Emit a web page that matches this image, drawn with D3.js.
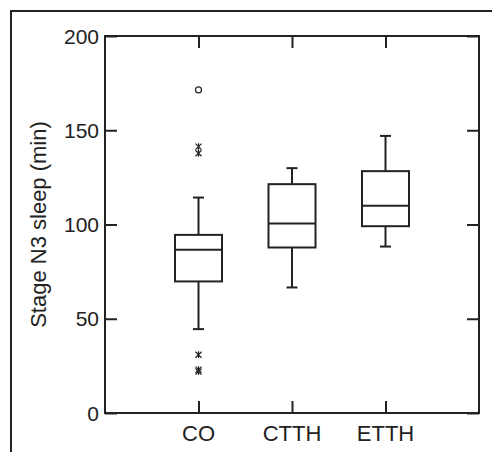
<!DOCTYPE html>
<html>
<head>
<meta charset="utf-8">
<script src="https://cdn.jsdelivr.net/npm/d3@7"></script>
<style>
  body { margin: 0; background: #fff; }
  text { font-family: "Liberation Sans", Arial, sans-serif; fill: #222; }
</style>
</head>
<body>
<div id="chart"></div>
<script>
// box plot summary
var groups = ['CO', 'CTTH', 'ETTH']
var whiskerLow = [44.5, 66.6, 88.3]
var q1 = [69.8, 87.8, 99.1]
var median = [86.6, 100.5, 110]
var q3 = [94.5, 121.4, 128.3]
var whiskerHigh = [114.3, 129.9, 147]
// circles = outliers, stars = extremes (only CO has them)
var outliers = [{group: 'CO', value: 171.4}]
var extremes = [
  {group: 'CO', value: 141.3}, {group: 'CO', value: 137.8},
  {group: 'CO', value: 30.9}, {group: 'CO', value: 23}, {group: 'CO', value: 22}
]
var yTicks = [0, 50, 100, 150, 200]

var width = 492, height = 452
var margin = {left: 105, right: 13, top: 36, bottom: 39}
var w = width - margin.left - margin.right,
    h = height - margin.top - margin.bottom
var ink = '#222'

var svg = d3.select('#chart')
  .append('svg')
    .attr('width', width)
    .attr('height', height)

// outer frame (left + top only)
svg.append('path')
    .attr('d', 'M11,452V11H492')
    .attr('fill', 'none')
    .attr('stroke', ink)
    .attr('stroke-width', 2)

var g = svg.append('g')
    .attr('transform', 'translate(' + margin.left + ',' + margin.top + ')')

var x = d3.scalePoint().domain(groups).range([0, w]).padding(1)
var y = d3.scaleLinear().domain([0, 200]).range([h, 0])

var boxW = 47, capW = 11, tickLen = 12

// plot frame
g.append('rect')
    .attr('width', w).attr('height', h)
    .attr('fill', 'none').attr('stroke', ink).attr('stroke-width', 2)

// inward ticks on all four sides
g.append('g').call(d3.axisLeft(y).tickValues(yTicks).tickSize(-tickLen).tickFormat(''))
g.append('g').attr('transform', 'translate(' + w + ',0)')
  .call(d3.axisRight(y).tickValues(yTicks).tickSize(-tickLen).tickFormat(''))
g.append('g').attr('transform', 'translate(0,' + h + ')')
  .call(d3.axisBottom(x).tickSize(-tickLen).tickFormat(''))
g.append('g').call(d3.axisTop(x).tickSize(-tickLen).tickFormat(''))
g.selectAll('.domain').remove()
g.selectAll('.tick line').attr('stroke', ink).attr('stroke-width', 2)

// tick labels
g.selectAll('.ylab').data(yTicks).enter().append('text')
    .attr('x', -6).attr('y', function(d){ return y(d) })
    .attr('dy', '0.36em').attr('text-anchor', 'end')
    .attr('font-size', 21)
    .text(function(d){ return d })

g.selectAll('.xlab').data(groups).enter().append('text')
    .attr('x', function(d){ return x(d) }).attr('y', h + 20)
    .attr('dy', '0.36em').attr('text-anchor', 'middle')
    .attr('font-size', 22)
    .text(function(d){ return d })

svg.append('text')
    .attr('transform', 'translate(46,' + (margin.top + y(100)) + ') rotate(-90)')
    .attr('text-anchor', 'middle')
    .attr('font-size', 22)
    .text('Stage N3 sleep (min)')

// boxes
var box = g.selectAll('.box').data(groups).enter().append('g')
    .attr('transform', function(d){ return 'translate(' + x(d) + ',0)' })
    .attr('stroke', ink).attr('stroke-width', 2).attr('fill', 'none')

box.append('line')
    .attr('y1', function(d, i){ return y(whiskerLow[i]) })
    .attr('y2', function(d, i){ return y(whiskerHigh[i]) })
box.append('rect')
    .attr('x', -boxW/2).attr('width', boxW)
    .attr('y', function(d, i){ return y(q3[i]) })
    .attr('height', function(d, i){ return y(q1[i]) - y(q3[i]) })
    .attr('fill', '#fff')
box.append('line')
    .attr('x1', -boxW/2).attr('x2', boxW/2)
    .attr('y1', function(d, i){ return y(median[i]) })
    .attr('y2', function(d, i){ return y(median[i]) })
;[whiskerLow, whiskerHigh].forEach(function(arr){
  box.append('line')
      .attr('x1', -capW/2).attr('x2', capW/2)
      .attr('y1', function(d, i){ return y(arr[i]) })
      .attr('y2', function(d, i){ return y(arr[i]) })
})

g.selectAll('.outlier').data(outliers).enter().append('circle')
    .attr('cx', function(d){ return x(d.group) })
    .attr('cy', function(d){ return y(d.value) })
    .attr('r', 3)
    .attr('fill', 'none').attr('stroke', ink).attr('stroke-width', 1.2)

g.selectAll('.extreme').data(extremes).enter().append('path')
    .attr('transform', function(d){ return 'translate(' + x(d.group) + ',' + y(d.value) + ')' })
    .attr('d', 'M-3,-3L3,3M-3,3L3,-3M0,-3.5V3.5')
    .attr('fill', 'none').attr('stroke', ink).attr('stroke-width', 1.2)
</script>
</body>
</html>
